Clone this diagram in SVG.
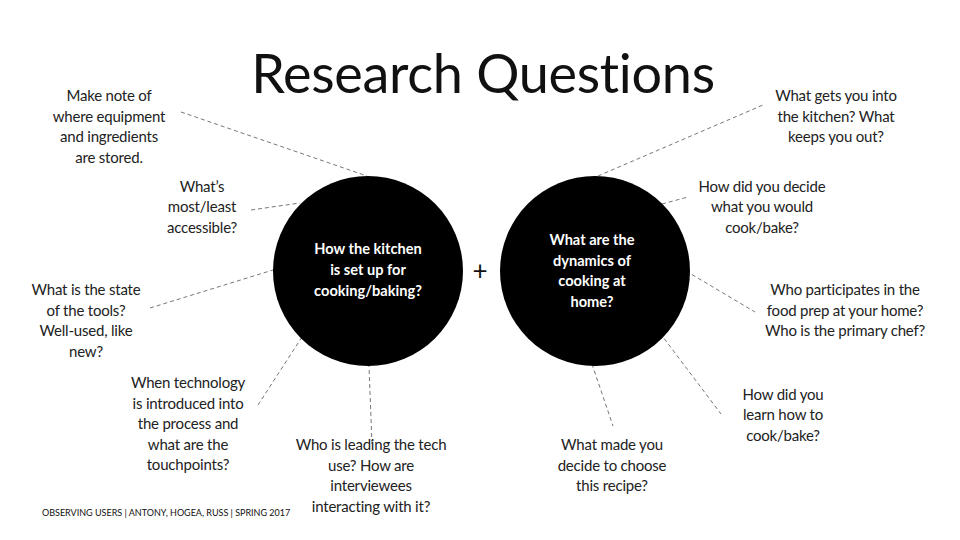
<svg xmlns="http://www.w3.org/2000/svg" width="960" height="540" viewBox="0 0 960 540">
<style>
.t{font-family:Lato,"Open Sans",sans-serif;font-size:15px;fill:#222;text-anchor:middle;letter-spacing:-0.2px}
.c{font-family:Lato,"Open Sans",sans-serif;font-size:14.6px;font-weight:bold;fill:#fff;text-anchor:middle}
.l{stroke:#777;stroke-width:1;stroke-dasharray:4,3;fill:none}
</style>
<rect width="960" height="540" fill="#fff"/>
<text x="483" y="93" font-family="Lato,sans-serif" font-size="54" font-weight="400" fill="#111" text-anchor="middle" letter-spacing="-0.3">Research Questions</text>
<g id="connectors">
<line class="l" x1="181" y1="112" x2="367" y2="176"/>
<line class="l" x1="251" y1="210" x2="300" y2="203"/>
<line class="l" x1="150" y1="308" x2="273" y2="270"/>
<line class="l" x1="258" y1="405" x2="302" y2="337"/>
<line class="l" x1="372" y1="444" x2="369" y2="366"/>
<line class="l" x1="598" y1="176" x2="763" y2="105"/>
<line class="l" x1="662" y1="204" x2="688" y2="197"/>
<line class="l" x1="686" y1="271" x2="755" y2="312"/>
<line class="l" x1="660" y1="333" x2="721" y2="414"/>
<line class="l" x1="592" y1="364" x2="613" y2="426"/>
</g>
<g id="kitchen">
<circle cx="368" cy="271" r="95" fill="#000"/>
<text class="c"><tspan x="368" y="254">How the kitchen</tspan><tspan x="368" y="275">is set up for</tspan><tspan x="368" y="296">cooking/baking?</tspan></text>
</g>
<g id="plus"><text x="480" y="280" font-family="Lato,sans-serif" font-size="26" fill="#111" text-anchor="middle">+</text></g>
<g id="dynamics">
<circle cx="595" cy="271" r="95" fill="#000"/>
<text class="c"><tspan x="592" y="245">What are the</tspan><tspan x="592" y="266">dynamics of</tspan><tspan x="592" y="286">cooking at</tspan><tspan x="592" y="307">home?</tspan></text>
</g>
<g id="q1"><text class="t"><tspan x="109" y="101">Make note of</tspan><tspan x="109" y="122">where equipment</tspan><tspan x="109" y="142">and ingredients</tspan><tspan x="109" y="163">are stored.</tspan></text></g>
<g id="q2"><text class="t"><tspan x="202" y="192">What’s</tspan><tspan x="202" y="212">most/least</tspan><tspan x="202" y="233">accessible?</tspan></text></g>
<g id="q3"><text class="t"><tspan x="86" y="295">What is the state</tspan><tspan x="86" y="316">of the tools?</tspan><tspan x="86" y="336">Well-used, like</tspan><tspan x="86" y="357">new?</tspan></text></g>
<g id="q4"><text class="t"><tspan x="188" y="388">When technology</tspan><tspan x="188" y="409">is introduced into</tspan><tspan x="188" y="429">the process and</tspan><tspan x="188" y="450">what are the</tspan><tspan x="188" y="470">touchpoints?</tspan></text></g>
<g id="q5"><text class="t"><tspan x="371" y="450">Who is leading the tech</tspan><tspan x="371" y="471">use? How are</tspan><tspan x="371" y="491">interviewees</tspan><tspan x="371" y="512">interacting with it?</tspan></text></g>
<g id="q6"><text class="t"><tspan x="836" y="101">What gets you into</tspan><tspan x="836" y="122">the kitchen? What</tspan><tspan x="836" y="142">keeps you out?</tspan></text></g>
<g id="q7"><text class="t"><tspan x="762" y="192">How did you decide</tspan><tspan x="762" y="212">what you would</tspan><tspan x="762" y="233">cook/bake?</tspan></text></g>
<g id="q8"><text class="t"><tspan x="845" y="295">Who participates in the</tspan><tspan x="845" y="316">food prep at your home?</tspan><tspan x="845" y="336">Who is the primary chef?</tspan></text></g>
<g id="q9"><text class="t"><tspan x="783" y="400">How did you</tspan><tspan x="783" y="420">learn how to</tspan><tspan x="783" y="441">cook/bake?</tspan></text></g>
<g id="q10"><text class="t"><tspan x="612" y="450">What made you</tspan><tspan x="612" y="471">decide to choose</tspan><tspan x="612" y="491">this recipe?</tspan></text></g>
<text x="42" y="516" font-family="Lato,sans-serif" font-size="9" fill="#111">OBSERVING USERS | ANTONY, HOGEA, RUSS | SPRING 2017</text>
</svg>
